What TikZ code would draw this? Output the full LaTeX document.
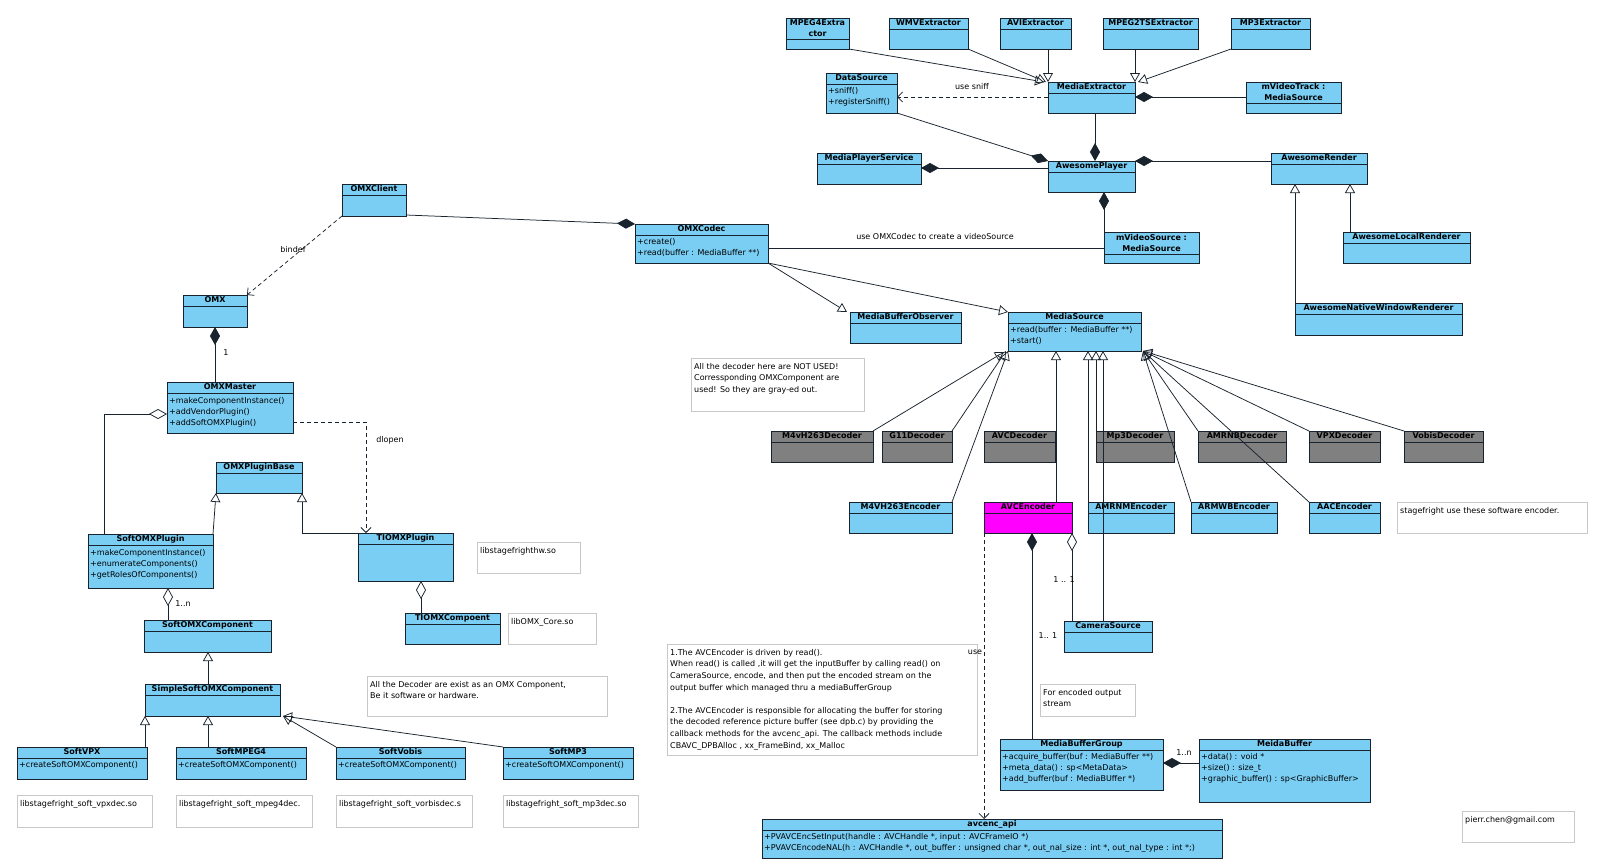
\documentclass[tikz,border=0pt]{standalone}
\usepackage{fontspec}
\setmainfont{DejaVu Sans}
\usetikzlibrary{arrows.meta,calc}
\definecolor{cblue}{RGB}{122,206,244}
\definecolor{cgray}{RGB}{128,128,128}
\definecolor{cmag}{RGB}{255,0,255}
\definecolor{cborder}{RGB}{25,35,45}
\definecolor{cnote}{RGB}{200,200,200}
\newcommand{\umlc}[8][cblue]{%
  \pgfmathsetmacro{\umlcw}{#5-#3}%
  \pgfmathsetmacro{\umlch}{#6-#4}%
  \node[clsbox,fill=#1,minimum width=\umlcw pt,minimum height=\umlch pt] (#2) at (#3,#4) {};%
  \draw[clsline] (#3,#7) -- (#5,#7);%
  \node[ctitle] (#2t) at ({(#3+#5)/2},{(#4+#7)/2}) {#8};%
}
\newcommand{\umln}[6]{%
  \pgfmathsetmacro{\umlnw}{#4-#2}%
  \pgfmathsetmacro{\umlnh}{#5-#3}%
  \node[notebox,minimum width=\umlnw pt,minimum height=\umlnh pt] (#1) at (#2,#3) {};%
  \node[ntext] (#1t) at ({#2+3},{#3+5}) {#6};%
}
\begin{document}
\begin{tikzpicture}[x=1pt,y=-1pt,
 clsbox/.style={draw=cborder,line width=0.9pt,inner sep=0pt,outer sep=0pt,anchor=north west},
 clsline/.style={draw=cborder,line width=0.9pt},
 ctitle/.style={font=\bfseries\fontsize{8}{9.5}\selectfont,inner sep=0pt,text height=6pt,text depth=1.6pt},
 ctitletwo/.style={font=\bfseries\fontsize{8}{11}\selectfont,inner sep=0pt,align=center},
 cattr/.style={font=\fontsize{8}{11.3}\selectfont,inner sep=0pt,align=left,anchor=north west},
 notebox/.style={draw=cnote,line width=0.8pt,fill=white,inner sep=0pt,outer sep=0pt,anchor=north west},
 ntext/.style={font=\fontsize{8}{11.6}\selectfont,inner sep=0pt,align=left,anchor=north west},
 lbl/.style={font=\fontsize{8}{9.5}\selectfont,inner sep=0pt},
 conn/.style={draw=cborder,line width=0.75pt},
 inh/.style={conn,-{Triangle[open,length=9pt,width=10pt]}},
 comp/.style={conn,{Diamond[length=18pt,width=10pt]}-},
 agg/.style={conn,{Diamond[open,length=18pt,width=10pt]}-},
 dep/.style={conn,dash pattern=on 4pt off 3pt,-{Straight Barb[length=5pt,width=10pt]}},
 assoc/.style={conn}
]
\fill[white] (0,0) rectangle (1600,867);
\useasboundingbox (0,0) rectangle (1600,867);

% ---------- notes ----------
\umln{nlibvpx}{17}{795}{152}{827}{libstagefright\_soft\_vpxdec.so}
\umln{nlibmpeg4}{176}{795}{312}{827}{libstagefright\_soft\_mpeg4dec.}
\umln{nlibvorbis}{336}{795}{472}{827}{libstagefright\_soft\_vorbisdec.s}
\umln{nlibmp3}{503}{795}{638}{827}{libstagefright\_soft\_mp3dec.so}
\umln{nhw}{477}{542}{580}{573}{libstagefrighthw.so}
\umln{ncore}{508}{613}{596}{644}{libOMX\_Core.so}
\umln{nalldec}{367}{676}{607}{716}{All the Decoder are exist as an OMX Component,\\Be it software or hardware.}
\umln{nnotused}{691}{358}{864}{411}{All the decoder here are NOT USED!\\Corressponding OMXComponent are\\used! So they are gray-ed out.}
\umln{nenc}{1397}{502}{1587}{533}{stagefright use these software encoder.}
\umln{nout}{1040}{684}{1135}{716}{For encoded output\\stream}
\umln{nbig}{667}{644}{977}{755}{1.The AVCEncoder is driven by read().\\When read() is called ,it will get the inputBuffer by calling read() on\\CameraSource, encode, and then put the encoded stream on the\\output buffer which managed thru a mediaBufferGroup\\ ~\\2.The AVCEncoder is responsible for allocating the buffer for storing\\the decoded reference picture buffer (see dpb.c) by providing the\\callback methods for the avcenc\_api. The callback methods include\\CBAVC\_DPBAlloc , xx\_FrameBind, xx\_Malloc}
\umln{nmail}{1462}{811}{1574}{842}{pierr.chen@gmail.com}

% ---------- OMX side ----------
\umlc{omxclient}{342}{184}{406}{216}{195}{OMXClient}
\umlc{omx}{183}{295}{247}{327}{306}{OMX}
\umlc{omxmaster}{167}{382}{293}{433}{393}{OMXMaster}
\node[cattr] (omxmastera) at (169,397) {+makeComponentInstance()\\+addVendorPlugin()\\+addSoftOMXPlugin()};
\umlc{omxpluginbase}{216}{462}{302}{493}{473}{OMXPluginBase}
\umlc{softomxplugin}{88}{534}{213}{588}{545}{SoftOMXPlugin}
\node[cattr] (softomxplugina) at (90,549) {+makeComponentInstance()\\+enumerateComponents()\\+getRolesOfComponents()};
\umlc{tiomxplugin}{358}{533}{453}{581}{544}{TIOMXPlugin}
\umlc{tiomxcomp}{405}{613}{500}{644}{624}{TIOMXCompoent}
\umlc{softomxcomp}{144}{620}{271}{652}{631}{SoftOMXComponent}
\umlc{simplesoft}{145}{684}{280}{716}{695}{SimpleSoftOMXComponent}
\umlc{softvpx}{17}{747}{147}{779}{758}{SoftVPX}
\node[cattr] (softvpxa) at (19,761) {+createSoftOMXComponent()};
\umlc{softmpeg4}{176}{747}{306}{779}{758}{SoftMPEG4}
\node[cattr] (softmpeg4a) at (178,761) {+createSoftOMXComponent()};
\umlc{softvobis}{336}{747}{465}{779}{758}{SoftVobis}
\node[cattr] (softvobisa) at (338,761) {+createSoftOMXComponent()};
\umlc{softmp3}{503}{747}{633}{779}{758}{SoftMP3}
\node[cattr] (softmp3a) at (505,761) {+createSoftOMXComponent()};

% ---------- codec / player side ----------
\umlc{omxcodec}{635}{224}{768}{263}{235}{OMXCodec}
\node[cattr] (omxcodeca) at (637,238) {+create()\\+read(buffer : MediaBuffer **)};
\umlc{mbobserver}{850}{312}{961}{343}{323}{MediaBufferObserver}
\umlc{mediasource}{1008}{312}{1141}{351}{323}{MediaSource}
\node[cattr] (mediasourcea) at (1010,326) {+read(buffer : MediaBuffer **)\\+start()};

\umlc{mpeg4ext}{786}{18}{849}{49}{39}{}
\node[ctitletwo] (mpeg4extn) at (817.5,28.5) {MPEG4Extra\\ctor};
\umlc{wmvext}{889}{18}{968}{49}{29}{WMVExtractor}
\umlc{aviext}{1000}{18}{1071}{49}{29}{AVIExtractor}
\umlc{mpeg2tsext}{1103}{18}{1198}{49}{29}{MPEG2TSExtractor}
\umlc{mp3ext}{1231}{18}{1310}{49}{29}{MP3Extractor}
\umlc{datasource}{826}{73}{897}{113}{84}{DataSource}
\node[cattr] (datasourcea) at (828,87) {+sniff()\\+registerSniff()};
\umlc{mediaextractor}{1048}{82}{1135}{113}{93}{MediaExtractor}
\umlc{mvideotrack}{1246}{82}{1341}{113}{103}{}
\node[ctitletwo] (mvideotrackn) at (1293.5,92.5) {mVideoTrack :\\MediaSource};
\umlc{mediaplayerservice}{817}{153}{921}{184}{164}{MediaPlayerService}
\umlc{awesomeplayer}{1048}{161}{1135}{192}{172}{AwesomePlayer}
\umlc{awesomerender}{1271}{153}{1367}{184}{164}{AwesomeRender}
\umlc{mvideosource}{1104}{232}{1199}{263}{254}{}
\node[ctitletwo] (mvideosourcen) at (1151.5,243) {mVideoSource :\\MediaSource};
\umlc{awesomelocal}{1343}{232}{1470}{263}{243}{AwesomeLocalRenderer}
\umlc{awesomenative}{1295}{303}{1462}{335}{314}{AwesomeNativeWindowRenderer}

% ---------- decoders ----------
\umlc[cgray]{m4vh263dec}{771}{431}{873}{462}{442}{M4vH263Decoder}
\umlc[cgray]{g11dec}{882}{431}{952}{462}{442}{G11Decoder}
\umlc[cgray]{avcdec}{984}{431}{1055}{462}{442}{AVCDecoder}
\umlc[cgray]{mp3dec}{1096}{431}{1174}{462}{442}{Mp3Decoder}
\umlc[cgray]{amrnbdec}{1198}{431}{1286}{462}{442}{AMRNBDecoder}
\umlc[cgray]{vpxdec}{1309}{431}{1380}{462}{442}{VPXDecoder}
\umlc[cgray]{vobisdec}{1404}{431}{1483}{462}{442}{VobisDecoder}

% ---------- encoders ----------
\umlc{m4vh263enc}{849}{502}{952}{533}{513}{M4VH263Encoder}
\umlc[cmag]{avcenc}{984}{502}{1072}{533}{513}{AVCEncoder}
\umlc{amrnmenc}{1088}{502}{1174}{533}{513}{AMRNMEncoder}
\umlc{armwbenc}{1191}{502}{1277}{533}{513}{ARMWBEncoder}
\umlc{aacenc}{1309}{502}{1380}{533}{513}{AACEncoder}
\umlc{camerasource}{1064}{621}{1152}{652}{632}{CameraSource}
\umlc{mbgroup}{1000}{739}{1163}{790}{750}{MediaBufferGroup}
\node[cattr] (mbgroupa) at (1002,753) {+acquire\_buffer(buf : MediaBuffer **)\\+meta\_data() : sp<MetaData>\\+add\_buffer(buf : MediaBUffer *)};
\umlc{meidabuffer}{1199}{739}{1370}{802}{750}{MeidaBuffer}
\node[cattr] (meidabuffera) at (1201,753) {+data() : void *\\+size() : size\_t\\+graphic\_buffer() : sp<GraphicBuffer>};
\umlc{avcencapi}{762}{819}{1222}{858}{830}{avcenc\_api}
\node[cattr] (avcencapia) at (764,833) {+PVAVCEncSetInput(handle : AVCHandle *, input : AVCFrameIO *)\\+PVAVCEncodeNAL(h : AVCHandle *, out\_buffer : unsigned char *, out\_nal\_size : int *, out\_nal\_type : int *;)};

% ---------- connectors: OMX ----------
\draw[dep] (omxclient.south west) -- (omx.north east);
\node[lbl] (lbindef) at (293,250) {bindef};
\draw[comp] ([xshift=32pt]omx.south west) -- ([xshift=48pt]omxmaster.north west);
\node[lbl] (lone) at (226,353) {1};
\draw[agg] ([yshift=-32pt]omxmaster.north west) -| ([xshift=16pt]softomxplugin.north west);
\draw[dep] ([yshift=-40pt]omxmaster.north east) -| ([xshift=8pt]tiomxplugin.north west);
\node[lbl] (ldlopen) at (390,440) {dlopen};
\draw[inh] (softomxplugin.north east) -- (omxpluginbase.south west);
\draw[inh] (tiomxplugin.north west) -| (omxpluginbase.south east);
\draw[agg] ([xshift=80pt]softomxplugin.south west) -- ([xshift=24pt]softomxcomp.north west);
\node[lbl] (lonen) at (183,604) {1..n};
\draw[agg] ([xshift=63pt]tiomxplugin.south west) -- ([xshift=16pt]tiomxcomp.north west);
\draw[inh] ([xshift=63pt]simplesoft.north west) -- ([xshift=64pt]softomxcomp.south west);
\draw[inh] ([xshift=128pt]softvpx.north west) -- (simplesoft.south west);
\draw[inh] ([xshift=32pt]softmpeg4.north west) -- ([xshift=63pt]simplesoft.south west);
\draw[inh] (softvobis.north west) -- ([xshift=3pt]simplesoft.south east);
\draw[inh] (softmp3.north west) -- ([xshift=3pt]simplesoft.south east);

% ---------- connectors: codec / player ----------
\draw[comp] (omxcodec.north west) -- ([yshift=1pt]omxclient.south east);
\draw[assoc] ([yshift=-24pt]omxcodec.north east) -- ([yshift=-16pt]mvideosource.north west);
\node[lbl] (luse) at (935,237) {use OMXCodec to create a videoSource};
\draw[inh] (omxcodec.south east) -- ([xshift=-3pt]mbobserver.north west);
\draw[inh] (omxcodec.south east) -- (mediasource.north west);

\draw[inh] (mpeg4ext.south east) -- ([xshift=-4pt]mediaextractor.north west);
\draw[inh] (wmvext.south east) -- ([xshift=-2pt]mediaextractor.north west);
\draw[inh] ([xshift=48pt]aviext.south west) -- (mediaextractor.north west);
\draw[inh] ([xshift=32pt]mpeg2tsext.south west) -- (mediaextractor.north east);
\draw[inh] (mp3ext.south west) -- ([xshift=3pt]mediaextractor.north east);
\draw[dep] ([yshift=-15pt]mediaextractor.north west) -- ([yshift=-24pt]datasource.north east);
\node[lbl] (lsniff) at (972,87) {use sniff};
\draw[comp] ([yshift=-15pt]mediaextractor.north east) -- ([yshift=-15pt]mvideotrack.north west);
\draw[comp] ([xshift=47pt]awesomeplayer.north west) -- ([xshift=47pt]mediaextractor.south west);
\draw[comp] (awesomeplayer.north west) -- (datasource.south east);
\draw[comp] ([yshift=-15pt]mediaplayerservice.north east) -- ([yshift=-7pt]awesomeplayer.north west);
\draw[comp] (awesomeplayer.north east) -- ([yshift=-8pt]awesomerender.north west);
\draw[comp] ([xshift=56pt]awesomeplayer.south west) -- (mvideosource.north west);
\draw[inh] (awesomenative.north west) -- ([xshift=24pt]awesomerender.south west);
\draw[inh] ([xshift=7pt]awesomelocal.north west) -- ([xshift=79pt]awesomerender.south west);

% ---------- connectors: media source ----------
\draw[inh] (m4vh263dec.north east) -- ([xshift=-4pt,yshift=-1pt]mediasource.south west);
\draw[inh] (g11dec.north east) -- ([xshift=-2pt]mediasource.south west);
\draw[inh] (m4vh263enc.north east) -- (mediasource.south west);
\draw[inh] ([xshift=72pt]avcenc.north west) -- ([xshift=48pt]mediasource.south west);
\draw[inh] (amrnmenc.north west) -- ([xshift=80pt]mediasource.south west);
\draw[inh] (mp3dec.north west) -- ([xshift=88pt]mediasource.south west);
\draw[inh] ([xshift=39pt]camerasource.north west) -- ([xshift=95pt]mediasource.south west);
\draw[inh] (amrnbdec.north west) -- ([xshift=2pt]mediasource.south east);
\draw[inh] (vpxdec.north west) -- ([xshift=2pt]mediasource.south east);
\draw[inh] (vobisdec.north west) -- ([xshift=2pt]mediasource.south east);
\draw[inh] (armwbenc.north west) -- ([xshift=2pt]mediasource.south east);
\draw[inh] (aacenc.north west) -- ([xshift=2pt]mediasource.south east);

% ---------- connectors: encoder ----------
\draw[comp] ([xshift=48pt]avcenc.south west) -- ([xshift=32pt]mbgroup.north west);
\node[lbl] (lmbg) at (1048,636) {1.. 1};
\draw[agg] (avcenc.south east) -- ([xshift=8pt]camerasource.north west);
\node[lbl] (lcam) at (1064,580) {1 .. 1};
\draw[dep] (avcenc.south west) -- ([xshift=222pt]avcencapi.north west);
\node[lbl] (luseapi) at (975,652) {use};
\draw[comp] ([yshift=-24pt]mbgroup.north east) -- ([yshift=-24pt]meidabuffer.north west);
\node[lbl] (lmbn) at (1184,753) {1..n};
\end{tikzpicture}
\end{document}
